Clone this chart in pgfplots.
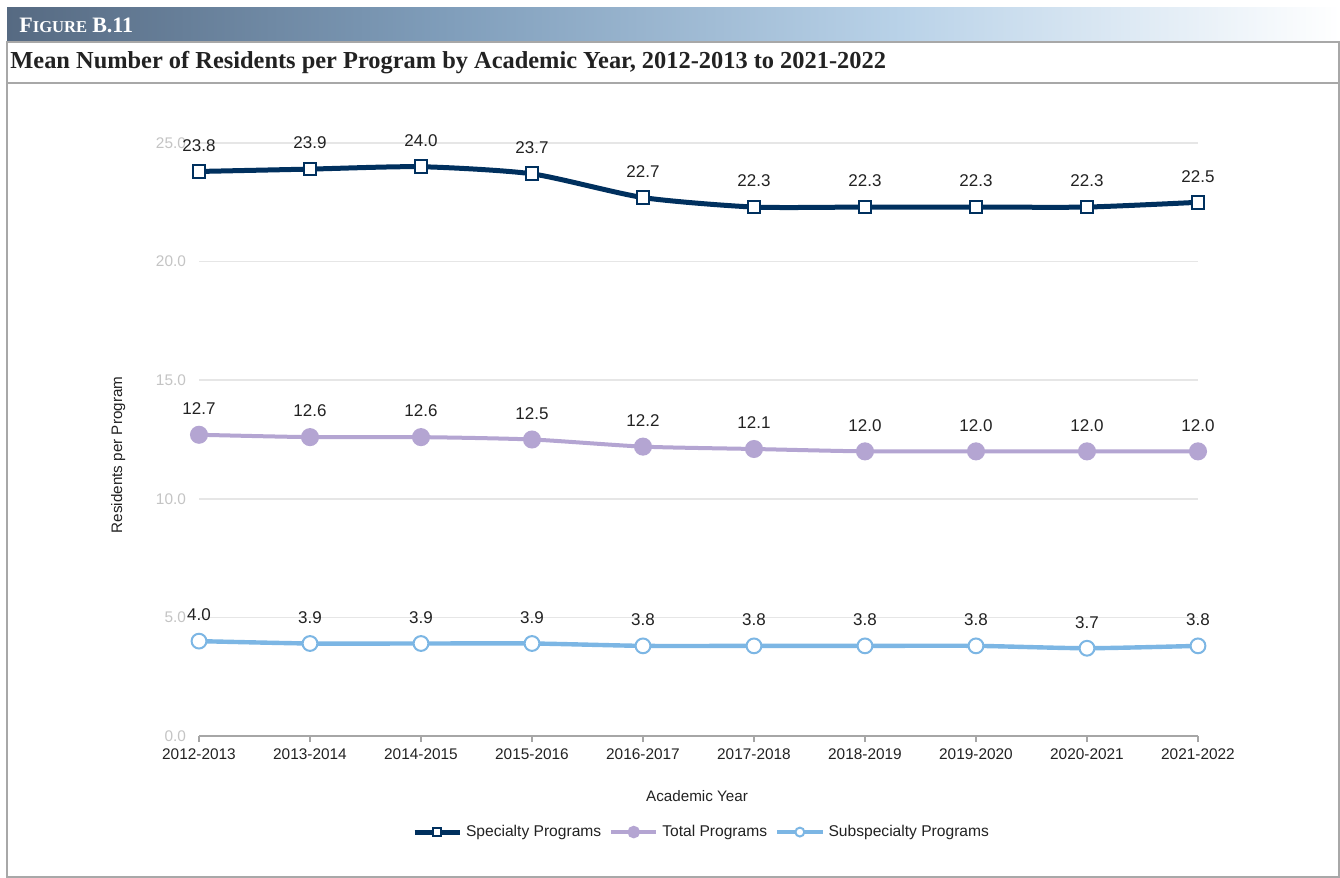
\documentclass[border=0pt]{standalone}
\usepackage{fontspec}
\setmainfont{Liberation Serif}
\newfontfamily\arial{Liberation Sans}
\usepackage{pgfplots}
\pgfplotsset{compat=1.18}
\definecolor{navy}{HTML}{00305E}
\definecolor{lav}{HTML}{B4A5D2}
\definecolor{sky}{HTML}{7CB6E4}
\definecolor{gridc}{HTML}{E6E6E6}
\definecolor{tickc}{HTML}{C4C4C4}
\definecolor{axc}{HTML}{A6A6A6}
\definecolor{framec}{HTML}{A8A8A8}
\definecolor{hdrA}{HTML}{566A82}
\definecolor{hdrB}{HTML}{809EBB}
\definecolor{hdrC}{HTML}{B9D2E8}
\definecolor{txt}{HTML}{222222}
\begin{document}
\begin{tikzpicture}
\path[use as bounding box, fill=white] (0pt,0pt) rectangle (670pt,-439pt);
\shade[left color=hdrA, right color=hdrB] (3.5pt,-3.5pt) rectangle (225.5pt,-21pt);
\shade[left color=hdrB, right color=hdrC] (225pt,-3.5pt) rectangle (450.5pt,-21pt);
\shade[left color=hdrC, right color=white] (450pt,-3.5pt) rectangle (670pt,-21pt);
\node[anchor=west, text=white, font=\bfseries, inner sep=0pt] at (9.5pt,-12.5pt)
  {{\fontsize{11}{13}\selectfont F}{\fontsize{8.3}{10}\selectfont IGURE} {\fontsize{11}{13}\selectfont B.11}};
\draw[framec, line width=0.7pt] (3.5pt,-21pt) rectangle (669.5pt,-438.5pt);
\draw[framec, line width=0.7pt] (3.5pt,-41.5pt) -- (669.5pt,-41.5pt);
\node[anchor=west, text=txt, font=\bfseries\fontsize{12.2}{14}\selectfont, inner sep=0pt] at (5pt,-31.5pt)
  {Mean Number of Residents per Program by Academic Year, 2012-2013 to 2021-2022};
\begin{axis}[
  at={(99.5pt,-368pt)}, anchor=south west,
  scale only axis, width=499.5pt, height=296.5pt,
  xmin=0, xmax=9, ymin=0, ymax=25,
  clip=false,
  axis x line*=bottom, axis y line*=left,
  y axis line style={draw=none},
  x axis line style={axc, line width=0.8pt, -},
  ytick={0,5,10,15,20,25},
  ytick style={draw=none},
  ymajorgrids, grid style={gridc, line width=0.8pt},
  xtick={0,...,9},
  xticklabels={2012-2013,2013-2014,2014-2015,2015-2016,2016-2017,2017-2018,2018-2019,2019-2020,2020-2021,2021-2022},
  tick align=outside, major tick length=3pt,
  xtick style={axc, line width=0.8pt},
  /pgf/number format/assume math mode=true,
  tick label style={font=\arial\fontsize{7.7}{9}\selectfont},
  xticklabel style={text=txt},
  yticklabel style={text=tickc, /pgf/number format/fixed, /pgf/number format/fixed zerofill, /pgf/number format/precision=1, xshift=0pt},
  xlabel={Academic Year}, ylabel={Residents per Program},
  label style={font=\arial\fontsize{7.6}{9}\selectfont, text=txt},
  xlabel style={at={(axis description cs:0.4985,-0.101)}, anchor=center},
  ylabel style={at={(axis description cs:-0.081,0.474)}, anchor=center},
  legend style={at={(0.504,-0.162)}, anchor=center, draw=none, fill=none, legend columns=3,
    font=\arial\fontsize{7.8}{9}\selectfont, text=txt,
    /tikz/every even column/.append style={column sep=2pt}},
  legend image code/.code={\draw[mark repeat=2,mark phase=2,#1,every mark/.append style={scale=0.6}] plot coordinates {(0pt,0pt) (11.25pt,0pt) (22.5pt,0pt)};},
  nodes near coords={\pgfmathprintnumber[fixed,fixed zerofill,precision=1,assume math mode=true]{\pgfplotspointmeta}},
  every node near coord/.append style={font=\arial\fontsize{8.5}{10}\selectfont, text=txt, anchor=center, yshift=13pt},
]
\addplot[navy, line width=2.5pt, smooth, tension=0.4, mark=square*, mark size=3.2pt,
  mark options={fill=white, draw=navy, line width=1pt, solid}]
  coordinates {(0,23.8) (1,23.9) (2,24.0) (3,23.7) (4,22.7) (5,22.3) (6,22.3) (7,22.3) (8,22.3) (9,22.5)};
\addlegendentry{Specialty Programs}
\addplot[lav, line width=2pt, smooth, tension=0.4, mark=*, mark size=3.5pt,
  mark options={fill=lav, draw=lav, solid}]
  coordinates {(0,12.7) (1,12.6) (2,12.6) (3,12.5) (4,12.2) (5,12.1) (6,12.0) (7,12.0) (8,12.0) (9,12.0)};
\addlegendentry{Total Programs}
\addplot[sky, line width=2.2pt, smooth, tension=0.4, mark=*, mark size=3.7pt,
  mark options={fill=white, draw=sky, line width=1pt, solid}]
  coordinates {(0,4.0) (1,3.9) (2,3.9) (3,3.9) (4,3.8) (5,3.8) (6,3.8) (7,3.8) (8,3.7) (9,3.8)};
\addlegendentry{Subspecialty Programs}
\end{axis}
\end{tikzpicture}
\end{document}
